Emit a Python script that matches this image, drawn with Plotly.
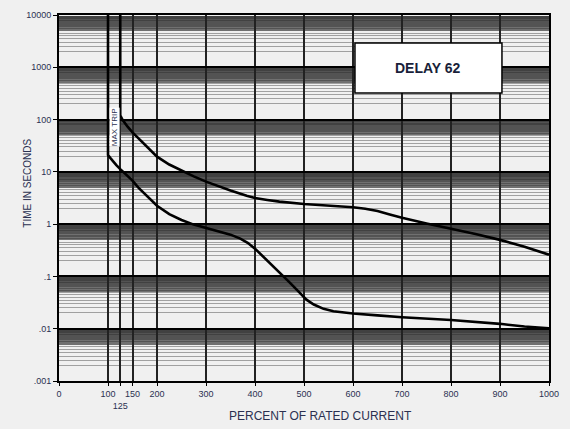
import plotly.graph_objects as go
import numpy as np

# ---- data ----
max_x = [125, 125, 130, 135, 140, 150, 160, 175, 200, 225, 250, 275, 300, 325, 350, 383, 400, 425, 450, 500, 550, 600, 625, 650, 675, 700, 750, 800, 850, 900, 950, 1000]
max_y = [10000, 120, 98, 84, 73, 57, 46, 33, 19.5, 13.8, 10.5, 8.2, 6.5, 5.3, 4.4, 3.5, 3.15, 2.9, 2.7, 2.42, 2.26, 2.1, 1.97, 1.78, 1.53, 1.32, 1.03, 0.82, 0.65, 0.5, 0.37, 0.26]

min_x = [100, 100, 105, 110, 117, 125, 137, 150, 162, 175, 187, 200, 225, 250, 275, 300, 325, 350, 370, 385, 400, 415, 430, 450, 470, 490, 505, 520, 540, 560, 600, 650, 700, 800, 900, 950, 1000]
min_y = [10000, 21, 18.3, 16, 13.5, 11.3, 8.8, 6.8, 5.0, 3.8, 2.9, 2.25, 1.55, 1.2, 0.98, 0.85, 0.74, 0.63, 0.53, 0.44, 0.34, 0.25, 0.18, 0.12, 0.078, 0.05, 0.036, 0.029, 0.024, 0.0215, 0.0195, 0.018, 0.0166, 0.0147, 0.0124, 0.011, 0.0102]

x_tickvals = [0, 100, 125, 150, 200, 300, 400, 500, 600, 700, 800, 900, 1000]
x_ticktext = ["0", "100", "<br>125", "150", "200", "300", "400", "500", "600", "700", "800", "900", "1000"]
y_tickvals = [0.001, 0.01, 0.1, 1, 10, 100, 1000, 10000]
y_ticktext = [".001", ".01", ".1", "1", "10", "100", "1000", "10000"]

# fine log-paper rulings within each decade
decades = [0.001, 0.01, 0.1, 1, 10, 100, 1000]
fine_steps = [2, 2.5, 3, 3.5, 4, 4.5] + [round(5 + 0.1 * i, 1) for i in range(50)]
minor_vals = [d * k for d in decades for k in fine_steps]

font_family = "Liberation Sans, Arial, sans-serif"
txt_color = "#2b3050"

fig = go.Figure()
fig.add_trace(go.Scatter(x=min_x, y=min_y, mode="lines",
                         line=dict(color="black", width=2.6), hoverinfo="skip"))
fig.add_trace(go.Scatter(x=max_x, y=max_y, mode="lines",
                         line=dict(color="black", width=2.6), hoverinfo="skip"))

# DELAY box
fig.add_shape(type="rect", xref="x", yref="y", x0=604, x1=904, y0=321, y1=2900,
              fillcolor="white", line=dict(color="black", width=1.5), layer="above")
fig.add_annotation(x=754, y=np.log10(965), xref="x", yref="y", text="<b>DELAY 62</b>",
                   showarrow=False, font=dict(family=font_family, size=14, color="#1a1f3a"))
fig.add_annotation(x=112.5, y=np.log10(72), xref="x", yref="y", text="MAX TRIP",
                   textangle=-90, showarrow=False, bgcolor="white", borderpad=0,
                   font=dict(family=font_family, size=8, color=txt_color))

fig.add_annotation(x=-0.08, y=0.54, xref="paper", yref="paper", text="TIME IN SECONDS",
                   textangle=-90, showarrow=False,
                   font=dict(family=font_family, size=10, color=txt_color))
fig.add_annotation(x=0.533, y=-0.096, xref="paper", yref="paper", text="PERCENT OF RATED CURRENT",
                   showarrow=False, yanchor="middle",
                   font=dict(family=font_family, size=12, color=txt_color))

fig.update_layout(
    width=570, height=429,
    margin=dict(l=59, r=21, t=15, b=48),
    paper_bgcolor="#f0f0f0", plot_bgcolor="#f0f0f0",
    showlegend=False,
    xaxis=dict(range=[0, 1000], tickmode="array", tickvals=x_tickvals, ticktext=x_ticktext,
               tickangle=0, automargin=False,
               showgrid=True, gridcolor="#222222", gridwidth=1.6, zeroline=False,
               showline=True, linecolor="black", linewidth=2, mirror=True,
               ticks="outside", ticklen=3, tickcolor="black",
               tickfont=dict(family=font_family, size=9, color=txt_color)),
    yaxis=dict(type="log", range=[-3, 4], tickmode="array", tickvals=y_tickvals, ticktext=y_ticktext,
               automargin=False,
               showgrid=True, gridcolor="black", gridwidth=2,
               showline=True, linecolor="black", linewidth=2, mirror=True,
               ticks="outside", ticklen=4, tickcolor="black",
               tickfont=dict(family=font_family, size=9, color=txt_color),
               minor=dict(tickmode="array", tickvals=minor_vals, showgrid=True,
                          gridcolor="rgba(40,40,40,0.4)", gridwidth=1, ticks="")),
)

fig.write_html("out.html")
